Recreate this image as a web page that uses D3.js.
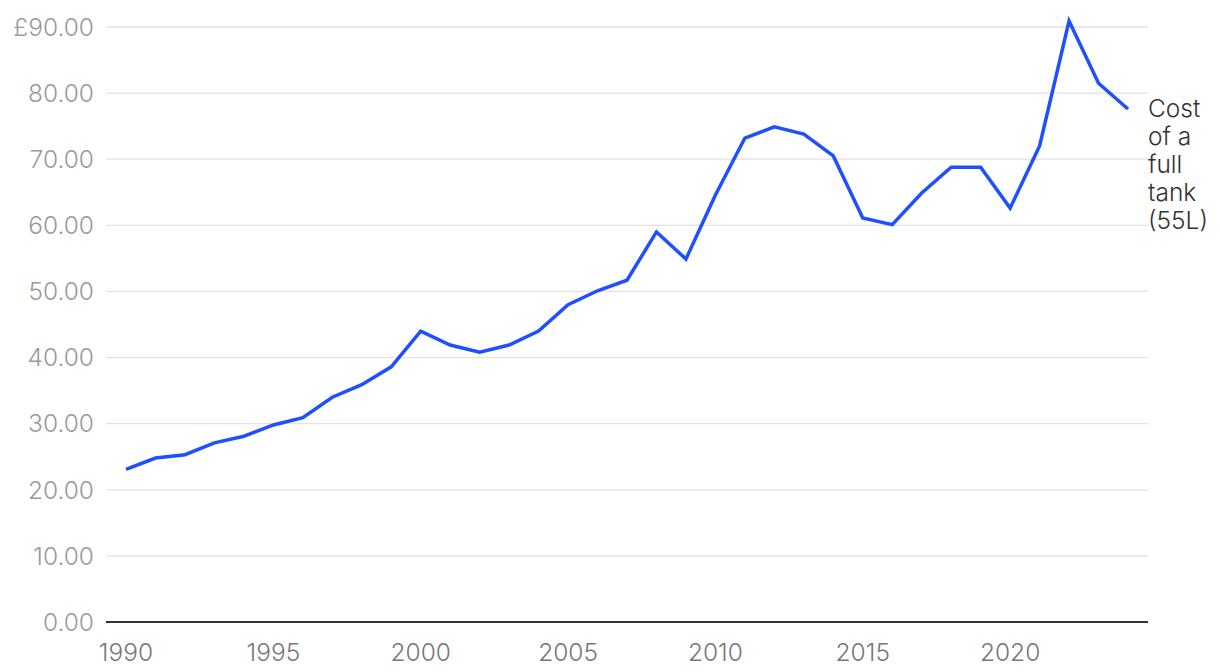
<!DOCTYPE html>
<html><head><meta charset="utf-8">
<script src="https://cdn.jsdelivr.net/npm/d3@7"></script>
<style>body{margin:0;background:#fff}svg{display:block}</style>
</head><body>
<svg id="c" width="1220" height="672"></svg>
<script>
const years = d3.range(1990, 2025);
const cost = [23.1,24.8,25.3,27.1,28.1,29.8,30.9,34.0,35.9,38.6,44.0,41.9,40.8,41.9,44.0,48.0,50.1,51.7,59.0,54.9,64.6,73.2,74.9,73.8,70.5,61.1,60.1,64.9,68.8,68.8,62.6,72.0,90.9,81.5,77.6];
const yTicks = [0,10,20,30,40,50,60,70,80,90];
const xTicks = [1990,1995,2000,2005,2010,2015,2020];
const labelLines = ["Cost","of a","full","tank","(55L)"];

const svg = d3.select("#c");
const font = "Inter, sans-serif";
const x = d3.scaleLinear().domain([1990, 2024]).range([126, 1128]);
const y = d3.scaleLinear().domain([0, 90]).range([622, 27]);
const left = 106, right = 1148;

const g = svg.append("g");
g.selectAll("line.grid").data(yTicks.filter(d=>d>0)).join("line")
  .attr("x1", left).attr("x2", right)
  .attr("y1", d=>y(d)).attr("y2", d=>y(d))
  .attr("stroke", "#e2e2e2").attr("stroke-width", 1.3);

g.selectAll("text.yl").data(yTicks).join("text")
  .attr("x", 94).attr("y", d=>y(d)).attr("dy", "0.36em")
  .attr("text-anchor", "end").attr("font-family", font).attr("font-size", 24.5)
  .attr("font-weight", 300)
  .attr("fill", "#9a9a9a")
  .text(d => (d===90 ? "£" : "") + d.toFixed(2));

g.append("line").attr("x1", left).attr("x2", right).attr("y1", y(0)).attr("y2", y(0))
  .attr("stroke", "#333").attr("stroke-width", 2);

g.selectAll("text.xl").data(xTicks).join("text")
  .attr("x", d=>x(d)).attr("y", 661)
  .attr("text-anchor", "middle").attr("font-family", font).attr("font-size", 24.5)
  .attr("font-weight", 300)
  .attr("fill", "#777").text(d=>d);

const line = d3.line().x((d,i)=>x(years[i])).y(d=>y(d));
g.append("path").datum(cost).attr("d", line).attr("fill","none")
  .attr("stroke","#1f4fff").attr("stroke-width",3.5).attr("stroke-linejoin","miter");

g.selectAll("text.lab").data(labelLines).join("text")
  .attr("x", 1148).attr("y", (d,i)=>117 + i*28)
  .attr("font-family", font).attr("font-size", 24.5).attr("font-weight", 300)
  .attr("fill", "#333").text(d=>d);
</script>
</body></html>
